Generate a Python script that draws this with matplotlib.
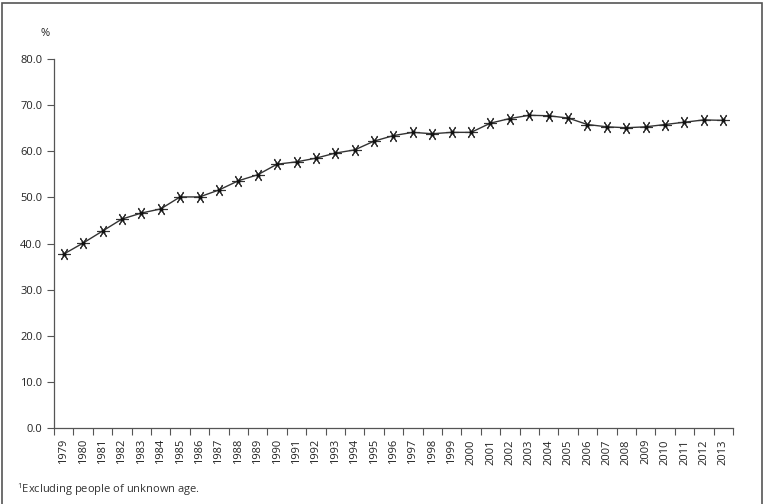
import matplotlib.pyplot as plt
from matplotlib.patches import Rectangle

plt.rcParams['font.family'] = ['Open Sans', 'DejaVu Sans']

years = [str(y) for y in range(1979, 2014)]
share = [37.7, 40.1, 42.7, 45.3, 46.6, 47.5, 50.1, 50.1, 51.6, 53.6,
         54.9, 57.2, 57.7, 58.5, 59.6, 60.3, 62.2, 63.4, 64.1, 63.8,
         64.1, 64.1, 66.1, 67.1, 67.8, 67.7, 67.2, 65.8, 65.3, 65.1,
         65.3, 65.8, 66.3, 66.8, 66.7]
y_ticks = [0, 10, 20, 30, 40, 50, 60, 70, 80]

fig = plt.figure(figsize=(7.64, 5.04), dpi=100)
ax = fig.add_axes([0.0707, 0.1508, 0.8887, 0.7321])

x = list(range(len(years)))
ax.plot(x, share, color='#333333', lw=1.0, marker=(6, 2, 30), ms=9,
        mec='#333333', mew=0.8)
ax.plot(x, share, ls='none', marker='o', ms=2, color='#111111')

ax.set_xlim(-0.5, len(years) - 0.5)
ax.set_ylim(0, 80)
ax.set_yticks(y_ticks)
ax.set_yticklabels([f'{v:.1f}' for v in y_ticks], fontsize=8, color='#222222')
ax.set_xticks([i - 0.5 for i in range(len(years) + 1)])
ax.set_xticklabels([])
ax.set_xticks(x, minor=True)
ax.set_xticklabels(years, minor=True, rotation=90, fontsize=8, color='#222222')
ax.tick_params(axis='x', which='minor', length=0, pad=8)
ax.tick_params(axis='both', which='major', length=5, width=0.8, color='#555555')

for s in ['top', 'right']:
    ax.spines[s].set_visible(False)
for s in ['left', 'bottom']:
    ax.spines[s].set_color('#555555')
    ax.spines[s].set_linewidth(0.9)

fig.text(0.059, 0.934, '%', fontsize=8, color='#222222', ha='center', va='center')
fig.text(0.022, 0.029, r'$^{\mathregular{1}}$Excluding people of unknown age.', fontsize=8,
         color='#333333', ha='left', va='center')

fig.patches.append(Rectangle((0.003, -0.05), 0.994, 1.044, transform=fig.transFigure,
                             fill=False, edgecolor='#555555', lw=1.2))

fig.savefig('out.png', dpi=100)
